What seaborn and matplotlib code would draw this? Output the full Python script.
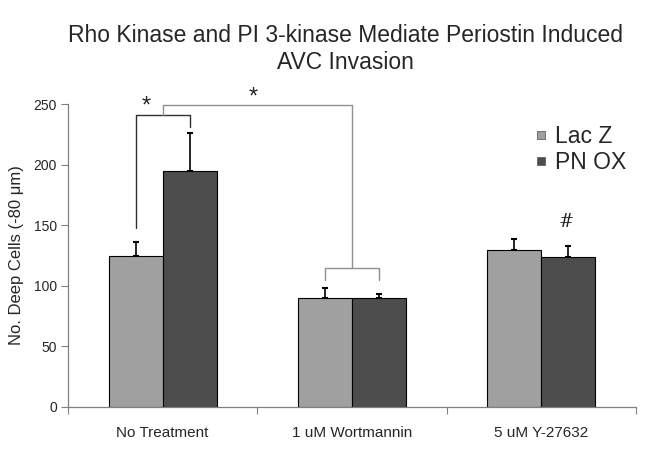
import numpy as np
import pandas as pd
import matplotlib
matplotlib.use('Agg')
import matplotlib.pyplot as plt
import seaborn as sns
from matplotlib.lines import Line2D

# data
treatments = ['No Treatment', '1 uM Wortmannin', '5 uM Y-27632']
groups = ['Lac Z', 'PN OX']
lacz_mean = [124.5, 90, 129.5]
lacz_err = [11.5, 8, 9]
pnox_mean = [195, 90, 124]
pnox_err = [31, 3, 9]

colors = {'Lac Z': '#a0a0a0', 'PN OX': '#4d4d4d'}

df = pd.DataFrame({
    'treatment': treatments * 2,
    'group': ['Lac Z'] * 3 + ['PN OX'] * 3,
    'cells': lacz_mean + pnox_mean,
    'err': lacz_err + pnox_err,
})

sns.set_style('white')
plt.rcParams['font.family'] = ['Liberation Sans', 'DejaVu Sans']

fig = plt.figure(figsize=(6.64, 4.59), dpi=100)
ax = fig.add_axes([0.1024, 0.1133, 0.8556, 0.6601])

sns.barplot(data=df, x='treatment', y='cells', hue='group', order=treatments,
            hue_order=groups, palette=colors, width=0.57, errorbar=None,
            edgecolor='black', linewidth=0.8, saturation=1, ax=ax, legend=False)

# upper error bars only, placed on the bars seaborn drew
centers = {}
for g, bars in zip(groups, ax.containers):
    sub = df[df.group == g]
    xs = [b.get_x() + b.get_width() / 2 for b in bars]
    centers[g] = xs
    ax.errorbar(xs, sub.cells, yerr=[np.zeros(len(sub)), sub.err], fmt='none',
                ecolor='black', elinewidth=1.2, capsize=2.5, capthick=1.5, zorder=3)

ax.set_xlim(-0.5, 2.5)
ax.set_ylim(0, 250)
ax.set_yticks([0, 50, 100, 150, 200, 250])
ax.set_xticks([-0.5, 0.5, 1.5, 2.5], minor=True)
ax.tick_params(axis='x', which='major', length=0, pad=14, labelsize=11)
ax.tick_params(axis='x', which='minor', length=5, width=0.8, color='#808080', direction='out')
ax.tick_params(axis='y', length=5, width=0.8, color='#808080', direction='out', labelsize=10, pad=3)
ax.tick_params(bottom=True, left=True, which='both')
ax.set_xlabel('')
ax.set_ylabel('No. Deep Cells (-80 \u03bcm)', fontsize=12, labelpad=7)
for s in ['top', 'right']:
    ax.spines[s].set_visible(False)
for s in ['left', 'bottom']:
    ax.spines[s].set_color('#808080')
    ax.spines[s].set_linewidth(0.9)

# significance brackets
l0, p0 = centers['Lac Z'][0], centers['PN OX'][0]
l1, p1 = centers['Lac Z'][1], centers['PN OX'][1]
mid0 = (l0 + p0) / 2
mid1 = (l1 + p1) / 2
ax.plot([l0, l0, p0, p0], [148, 241, 241, 231], color='#303030', lw=1, clip_on=False)
ax.plot([mid0, mid0, mid1, mid1], [241, 249.5, 249.5, 115], color='#909090', lw=1, clip_on=False)
ax.plot([l1, l1, p1, p1], [105, 115, 115, 105], color='#909090', lw=1, clip_on=False)
ax.text(-0.087, 248, '*', ha='center', va='center', fontsize=17, clip_on=False)
ax.text(0.478, 255, '*', ha='center', va='center', fontsize=17, clip_on=False)
ax.text(centers['PN OX'][2] - 0.01, 153, '#', ha='center', va='center', fontsize=13,
        family='DejaVu Serif', fontweight='light')

handles = [Line2D([], [], marker='s', ls='', markersize=6, markerfacecolor=colors[g],
                  markeredgecolor='#606060', markeredgewidth=0.6) for g in groups]
ax.legend(handles, groups, loc='upper left', bbox_to_anchor=(0.805, 0.96), frameon=False,
          fontsize=16.5, handlelength=0.6, handletextpad=0.3, labelspacing=0.1,
          borderaxespad=0)

fig.suptitle('Rho Kinase and PI 3-kinase Mediate Periostin Induced\nAVC Invasion',
             x=0.52, y=0.948, fontsize=16.5, linespacing=1.25)

fig.savefig('out.png', dpi=100, facecolor='white')
